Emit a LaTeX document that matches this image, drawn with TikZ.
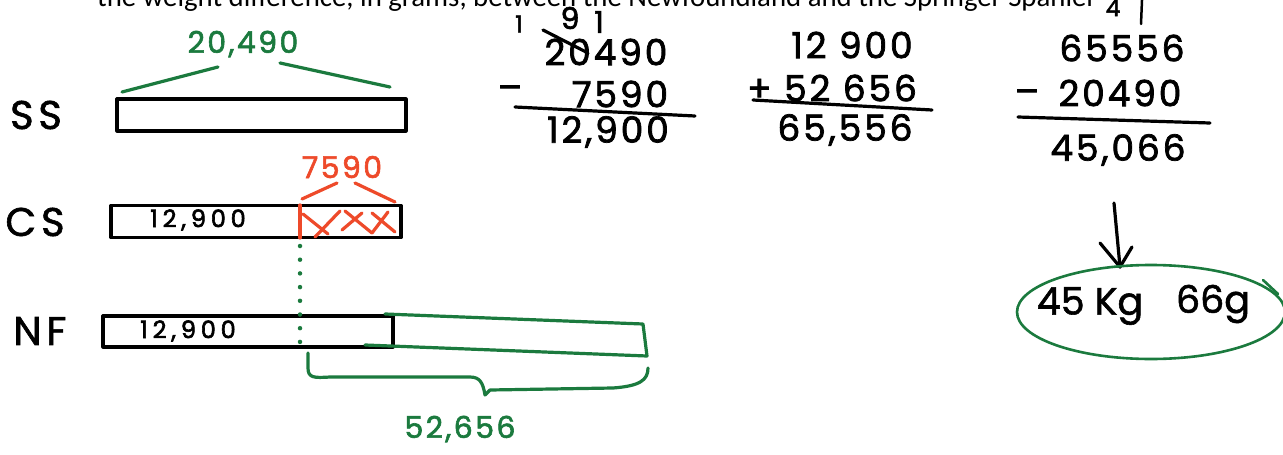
\documentclass[tikz,border=0pt]{standalone}
\usepackage{fontspec}
\usetikzlibrary{shapes.geometric}
\setmainfont{Carlito}
\newfontfamily\hand[LetterSpace=8,FakeBold=2]{Poppins}
\newfontfamily\handwide[LetterSpace=20,FakeBold=2.5]{Poppins}
\newfontfamily\handtight[FakeBold=1.5]{Poppins}
\newfontfamily\handrow[LetterSpace=12,FakeBold=1.5]{Poppins}
\definecolor{hgreen}{HTML}{1B7A3E}
\definecolor{hred}{HTML}{EE4A2A}
\tikzset{
  ink/.style={line width=3.2pt, line cap=round, line join=round},
  barbox/.style={draw=black, ink, inner sep=0pt, minimum height=32pt},
  gline/.style={ink, draw=hgreen},
  rline/.style={ink, draw=hred},
  kline/.style={ink, draw=black},
  rowlbl/.style={font=\handrow\fontsize{40}{40}\selectfont, inner sep=0pt},
  hw/.style={font=\hand\fontsize{36}{36}\selectfont, inner sep=0pt},
  hws/.style={font=\hand\fontsize{23}{23}\selectfont, inner sep=0pt},
  inbar/.style={font=\handwide\fontsize{24}{24}\selectfont, inner sep=0pt},
  hwm/.style={font=\hand\fontsize{30}{30}\selectfont, inner sep=0pt},
}
\begin{document}
\begin{tikzpicture}[x=1pt, y=-1pt]
\useasboundingbox (0,0) rectangle (1283,455);
\fill[white] (0,0) rectangle (1283,455);

% cut-off heading
\node[anchor=base west, inner sep=0pt, font=\fontsize{28.8}{28.8}\selectfont] (head) at (97,6)
  {the weight difference, in grams, between the Newfoundland and the Springer Spaniel};

% row labels
\node[rowlbl] (lss) at (36,115) {SS};
\node[rowlbl] (lcs) at (35,222) {CS};
\node[rowlbl] (lnf) at (40,331) {NF};

% bars
\node[barbox, minimum width=289pt] (ss) at (261.5,115) {};
\node[barbox, minimum width=290pt, minimum height=32pt] (cs) at (256,221.5) {};
\node[barbox, minimum width=290pt, minimum height=31pt] (nf) at (248,331.5) {};
\node[inbar] (cs12) at (198,220) {12,900};
\node[inbar] (nf12) at (188,331) {12,900};

% SS brace
\node[hwm, text=hgreen] (l20) at (243,44) {20,490};
\coordinate (b1) at (122,92); \coordinate (b2) at (218,67);
\coordinate (b3) at (280,63); \coordinate (b4) at (390,87);
\draw[gline] (b1) -- (b2);
\draw[gline] (b3) -- (b4);

% CS red part
\coordinate (div) at (300,205); \coordinate (divb) at (300,238);
\draw[rline] (div) -- (divb);
\draw[rline] (303,214) -- (328,234);
\draw[rline] (315,237) -- (340,211);
\draw[rline] (342,230) -- (362,213);
\draw[rline] (345,211) -- (372,233);
\draw[rline] (372,233) -- (388,212);
\draw[rline] (372,213) -- (395,232);
\node[hwm, text=hred] (l75) at (342,167) {7590};
\draw[rline] (302,199) -- (337,183);
\draw[rline] (355,183) -- (395,202);

% dotted link
\coordinate (d1) at (300,246); \coordinate (d2) at (300,342);
\draw[hgreen, line width=4.5pt, line cap=round, dash pattern=on 0pt off 13.7pt] (d1) -- (d2);

% NF green extension
\coordinate (g1) at (385,314); \coordinate (g2) at (643,324);
\coordinate (g3) at (647,356); \coordinate (g4) at (365,345);
\draw[gline] (g1) -- (g2) -- (g3) -- (g4);

% NF brace below
\coordinate (br1) at (308,353); \coordinate (br2) at (648,368);
\draw[gline] (br1) -- (308,368) .. controls (308,378) and (314,378) .. (330,377)
  -- (470,377) .. controls (480,377) and (483,383) .. (485,395)
  -- (490,390) -- (613,388) .. controls (640,386) and (648,380) .. (br2);
\node[hwm, text=hgreen] (l52) at (460,429) {52,656};

% column 1
\node[hws] (c1a) at (519,24) {1};
\node[hwm] (c1b) at (570,18) {9};
\node[hwm] (c1c) at (599,22) {1};
\node[hw] (c1n) at (606,52) {20490};
\draw[kline] (543,30) -- (588,53);
\node[hw, anchor=base] (c1m) at (510,100) {–};
\node[hw] (c1s) at (620,94) {7590};
\coordinate (u1) at (515,107); \coordinate (u2) at (695,116);
\draw[kline] (u1) -- (u2);
\node[hw] (c1r) at (608,132) {12,900};

% column 2
\node[hw] (c2a) at (852,45) {12 900};
\node[hw] (c2b) at (832,88) {+ 52 656};
\coordinate (v1) at (753,100); \coordinate (v2) at (932,110);
\draw[kline] (v1) -- (v2);
\node[hw] (c2r) at (845,130) {65,556};

% column 3
\node[hws] (c3t) at (1113,8) {4};
\draw[kline, line width=2.5pt] (1142,0) -- (1141,24);
\node[hw] (c3a) at (1122,48) {65556};
\node[hw, anchor=base] (c3m) at (1027,104) {–};
\node[hw] (c3b) at (1120,93) {20490};
\coordinate (w1) at (1018,117); \coordinate (w2) at (1210,123);
\draw[kline] (w1) -- (w2);
\node[hw] (c3r) at (1118,150) {45,066};

% arrow
\coordinate (a1) at (1114,203); \coordinate (a2) at (1120,267);
\draw[kline] (a1) -- (a2);
\draw[kline] (1100,243) -- (a2) -- (1132,247);

% answer ellipse
\node[draw=hgreen, line width=2.6pt, ellipse, minimum width=268pt, minimum height=94pt, inner sep=0pt] (ans) at (1151,312) {};
\draw[gline, line width=2.6pt] (1263,280) -- (1278,294);
\node[hw, font=\handtight\fontsize{38}{38}\selectfont] (kg) at (1090,306) {45 Kg};
\node[hw, font=\handtight\fontsize{38}{38}\selectfont] (gg) at (1213,304) {66g};
\end{tikzpicture}
\end{document}
